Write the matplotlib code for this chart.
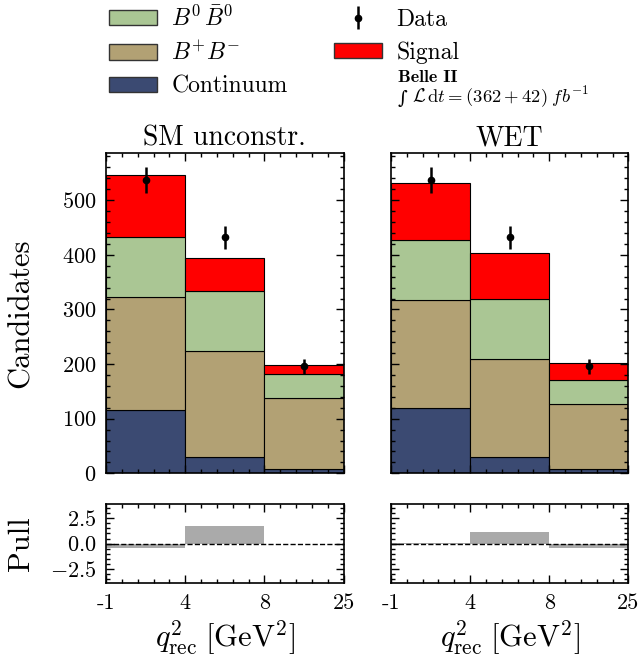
import numpy as np
import matplotlib
matplotlib.use("Agg")
import matplotlib.pyplot as plt
from matplotlib.ticker import MultipleLocator
from matplotlib.patches import Patch

plt.rcParams['font.family'] = 'serif'
plt.rcParams['font.serif'] = ['cmr10', 'DejaVu Serif']
plt.rcParams['mathtext.fontset'] = 'cm'
plt.rcParams['axes.formatter.use_mathtext'] = True
plt.rcParams['axes.unicode_minus'] = True

# bins (q2_rec edges)
bin_labels = ['-1', '4', '8', '25']
panels = ['SM unconstr.', 'WET']

# stacked components per panel (Continuum, B+B-, B0B0, Signal)
continuum = {'SM unconstr.': [115, 30, 7], 'WET': [119, 30, 7]}
bpbm = {'SM unconstr.': [208, 193, 130], 'WET': [199, 180, 120]}
b0b0 = {'SM unconstr.': [109, 110, 44], 'WET': [110, 110, 44]}
signal = {'SM unconstr.': [114, 61, 17], 'WET': [104, 84, 31]}

data_y = [537, 432, 196]
data_err = [23, 21, 14]

pull = {'SM unconstr.': [-0.4, 1.7, -0.04], 'WET': [0.04, 1.15, -0.4]}

col_cont = '#3b4a72'
col_bpbm = '#b2a174'
col_b0b0 = '#aac694'
col_sig = '#ff0000'

fig = plt.figure(figsize=(6.39, 6.67), dpi=100)
lefts = [106 / 639, 391 / 639]
w = 237.5 / 639


def style(ax):
    ax.tick_params(which='both', direction='in', top=True, right=True, width=1.0)
    ax.tick_params(which='major', length=5.5, labelsize=16, pad=7)
    ax.tick_params(which='minor', length=3)
    for s in ax.spines.values():
        s.set_linewidth(1.2)


for k, name in enumerate(panels):
    ax = fig.add_axes([lefts[k], 0.2904, w, 0.4807])
    axp = fig.add_axes([lefts[k], 0.1255, w, 0.1189])
    x = np.arange(3)
    bottom = np.zeros(3)
    for vals, c in [(continuum[name], col_cont), (bpbm[name], col_bpbm),
                    (b0b0[name], col_b0b0), (signal[name], col_sig)]:
        ax.bar(x, vals, width=1, align='edge', bottom=bottom, color=c,
               edgecolor='black', linewidth=0.8)
        bottom = bottom + np.array(vals)
    ax.errorbar(x + 0.5, data_y, yerr=data_err, fmt='o', color='black',
                ms=4.5, elinewidth=1.8, capsize=0)
    ax.set_xlim(0, 3)
    ax.set_ylim(0, 587)
    ax.yaxis.set_major_locator(MultipleLocator(100))
    ax.yaxis.set_minor_locator(MultipleLocator(20))
    ax.xaxis.set_major_locator(MultipleLocator(1))
    ax.xaxis.set_minor_locator(MultipleLocator(0.2))
    ax.set_xticklabels([])
    ax.set_title(name, fontsize=20, pad=5)
    style(ax)

    # pull panel
    axp.bar(x, pull[name], width=1, align='edge', color='#aaaaaa')
    axp.axhline(0, color='black', ls='--', lw=1)
    axp.set_xlim(0, 3)
    axp.set_ylim(-3.9, 3.9)
    axp.yaxis.set_major_locator(MultipleLocator(2.5))
    axp.yaxis.set_minor_locator(MultipleLocator(0.5))
    axp.xaxis.set_minor_locator(MultipleLocator(0.2))
    axp.set_xticks(range(4), bin_labels)
    axp.set_xlabel(r'$q^2_{\mathrm{rec}}\;[\mathrm{GeV}^2]$', fontsize=22)
    style(axp)
    if k == 0:
        ax.set_ylabel('Candidates', fontsize=22)
        axp.set_ylabel('Pull', fontsize=22)
        ax.yaxis.set_label_coords(-0.30, 0.5)
        axp.yaxis.set_label_coords(-0.30, 0.5)
    else:
        ax.set_yticklabels([])
        axp.set_yticklabels([])

handles = [Patch(facecolor=col_b0b0, edgecolor='#333333'),
           Patch(facecolor=col_bpbm, edgecolor='#333333'),
           Patch(facecolor=col_cont, edgecolor='#333333'),
           ax.errorbar([], [], yerr=[], fmt='o', color='black', ms=4.5, elinewidth=1.8),
           Patch(facecolor=col_sig, edgecolor='#333333')]
labels = [r'$B^0\,\bar{B}^0$', r'$B^{+}B^{-}$', 'Continuum', 'Data', 'Signal']
fig.legend(handles, labels, loc='upper left', bbox_to_anchor=(109 / 639, 1 - 5.5 / 667),
           ncol=2, frameon=False, fontsize=17, borderpad=0, borderaxespad=0,
           handlelength=2.03, handleheight=0.64, handletextpad=0.61,
           columnspacing=1.97, labelspacing=0.45)

fig.text(398 / 639, 1 - 82 / 667, 'Belle II', fontsize=13, family='cmb10')
fig.text(398 / 639, 1 - 104 / 667, '∫', fontsize=13.4, family='DejaVu Serif',
         style='italic')
fig.text(412 / 639, 1 - 103 / 667,
         r'$\mathcal{L}\,\mathrm{d}t = (362 + 42)\;fb^{-1}$', fontsize=13.4)

fig.savefig('out.png', dpi=100)
